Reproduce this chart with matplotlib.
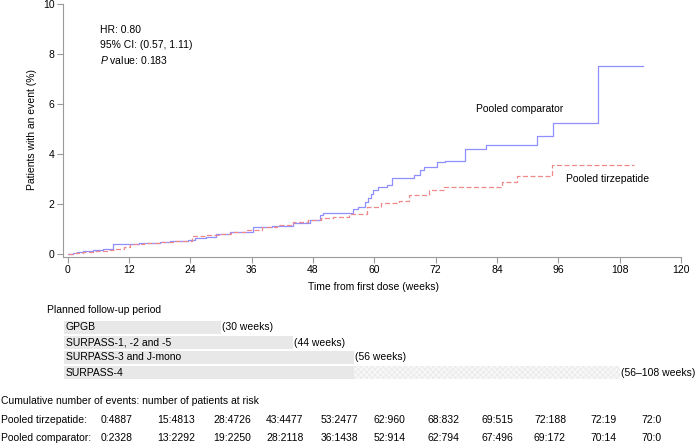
import numpy as np
import matplotlib
matplotlib.use("Agg")
import matplotlib.pyplot as plt

plt.rcParams['font.family'] = ['Liberation Sans', 'DejaVu Sans']
plt.rcParams['mathtext.fontset'] = 'custom'
plt.rcParams['mathtext.it'] = 'Liberation Sans:italic'
plt.rcParams['mathtext.rm'] = 'Liberation Sans'
plt.rcParams['hatch.linewidth'] = 0.4

# Kaplan-Meier style cumulative curves (weeks, % with event)
comp_weeks = [0, 1, 1.8, 3, 5, 7, 8.9, 11.9, 14, 16, 18, 20, 22, 23.5, 25, 27, 29, 31.8,
              36.3, 40, 44, 47.4, 49.4, 50, 51.5, 55.8, 56.9, 58.2, 58.8, 59.3, 59.8, 60.8,
              62.5, 63.4, 67.8, 69.0, 69.8, 72.2, 73.8, 77.8, 81.8, 91.8, 95.0, 103.8, 112.6]
comp_pct = [0, 0.04, 0.09, 0.11, 0.15, 0.2, 0.4, 0.42, 0.44, 0.46, 0.48, 0.51, 0.54, 0.58, 0.64, 0.7, 0.8, 0.89,
            1.09, 1.13, 1.23, 1.36, 1.56, 1.63, 1.66, 1.79, 1.88, 2.1, 2.25, 2.4, 2.56, 2.67,
            2.76, 3.03, 3.16, 3.36, 3.49, 3.68, 3.73, 4.2, 4.37, 4.73, 5.23, 7.53, 7.53]

tirz_weeks = [0, 1.5, 3, 5, 8, 9.5, 11, 12.2, 15, 18, 21, 24.4, 27, 30, 32, 35, 38, 41, 44, 47,
              49.5, 52, 55, 58.5, 61.4, 64.8, 66.8, 70.7, 73.7, 85.0, 87.9, 94.7, 110.8]
tirz_pct = [0, 0.05, 0.09, 0.12, 0.16, 0.22, 0.3, 0.41, 0.45, 0.49, 0.54, 0.72, 0.76, 0.82, 0.87, 0.98, 1.07, 1.15, 1.3, 1.36,
            1.43, 1.5, 1.62, 1.89, 2.03, 2.14, 2.36, 2.56, 2.69, 2.89, 3.13, 3.55, 3.55]

x_ticks = np.arange(0, 121, 12)
y_ticks = [0, 2, 4, 6, 8, 10]

# planned follow-up periods
studies = ['GPGB', 'SURPASS-1, -2 and -5', 'SURPASS-3 and J-mono', 'SURPASS-4']
study_weeks = [30, 44, 56, 56]
study_ext = [0, 0, 0, 108]
study_notes = ['(30 weeks)', '(44 weeks)', '(56 weeks)', '(56\u2013108 weeks)']

# numbers at risk table
tirz_risk = ['0:4887', '15:4813', '28:4726', '43:4477', '53:2477', '62:960',
             '68:832', '69:515', '72:188', '72:19', '72:0']
comp_risk = ['0:2328', '13:2292', '19:2250', '28:2118', '36:1438', '52:914',
             '62:794', '67:496', '69:172', '70:14', '70:0']

W, H = 699, 443
fig = plt.figure(figsize=(W / 100, H / 100), dpi=100)
fs = 7.5
grey = '#9a9a9a'

def fx(px):
    return px / W

def fy(py):
    return 1 - py / H

ax = fig.add_axes([fx(63), fy(257), fx(681) - fx(63), fy(4) - fy(257)])
ax.step(comp_weeks, comp_pct, where='post', color='#8f8fff', lw=0.9)
ax.step(tirz_weeks, tirz_pct, where='post', color='#f08a8a', lw=0.9, dashes=(4, 2))
ax.set_xlim(-0.9, 120)
ax.set_ylim(-0.12, 10)
ax.set_xticks(x_ticks)
ax.set_yticks(y_ticks)
for s in ['top', 'right']:
    ax.spines[s].set_visible(False)
for s in ['left', 'bottom']:
    ax.spines[s].set_color(grey)
    ax.spines[s].set_linewidth(0.8)
ax.tick_params(colors=grey, labelcolor='black', labelsize=fs, length=4, width=0.8, pad=2)

ax.text(6.3, 8.96, 'HR: 0.80', fontsize=fs, va='center')
ax.text(6.3, 8.36, '95% CI: (0.57, 1.11)', fontsize=fs, va='center')
ax.text(6.3, 7.76, r'$\it{P}$ value: 0.183', fontsize=fs, va='center')
ax.text(79.8, 5.8, 'Pooled comparator', fontsize=fs, va='center')
ax.text(97.5, 3.0, 'Pooled tirzepatide', fontsize=fs, va='center')

fig.text(fx(32), fy(129), 'Patients with an event (%)', rotation=90, fontsize=fs,
         ha='center', va='center')
fig.text(fx(374), fy(287), 'Time from first dose (weeks)', fontsize=fs, ha='center', va='center')

# follow-up bars, same x scale as the main plot
axb = fig.add_axes([fx(63), fy(380), fx(681) - fx(63), fy(320) - fy(380)])
axb.set_xlim(-0.9, 120)
axb.set_ylim(len(studies) - 0.5, -0.5)
axb.axis('off')
for i, name in enumerate(studies):
    axb.barh(i, study_weeks[i] + 0.8, left=-0.8, height=0.82, color='#e8e8e8', lw=0)
    end = study_weeks[i]
    if study_ext[i]:
        axb.barh(i, study_ext[i] - study_weeks[i], left=study_weeks[i], height=0.82,
                 color='#f7f7f7', hatch='xxxxxx', edgecolor='#e6e6e6', lw=0)
        end = study_ext[i]
    axb.text(-0.4, i, name, fontsize=fs, va='center', ha='left')
    axb.text(end + 0.3, i, study_notes[i], fontsize=fs, va='center', ha='left')
fig.text(fx(47), fy(310), 'Planned follow-up period', fontsize=fs, va='center')

fig.text(fx(1), fy(401), 'Cumulative number of events: number of patients at risk',
         fontsize=fs, va='center')
col_x = [101, 157, 213, 266, 321, 374, 428, 482, 534, 590, 641]
fig.text(fx(1), fy(420), 'Pooled tirzepatide:', fontsize=fs, va='center')
fig.text(fx(1), fy(438), 'Pooled comparator:', fontsize=fs, va='center')
for cx, a, b in zip(col_x, tirz_risk, comp_risk):
    fig.text(fx(cx), fy(420), a, fontsize=fs, va='center')
    fig.text(fx(cx), fy(438), b, fontsize=fs, va='center')

fig.savefig('out.png', dpi=100)
